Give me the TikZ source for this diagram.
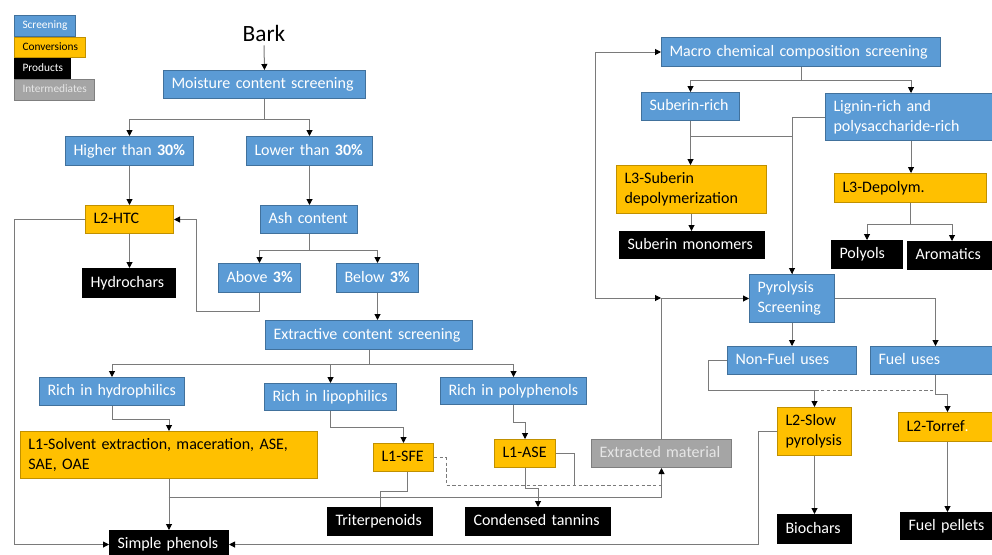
\documentclass[tikz,border=0pt]{standalone}
\usepackage{fontspec}
\setmainfont{Carlito}
\usetikzlibrary{arrows.meta}
\definecolor{scr}{HTML}{5B9BD5}
\definecolor{scrb}{HTML}{41719C}
\definecolor{conv}{HTML}{FFC000}
\definecolor{convb}{HTML}{C09000}
\definecolor{inter}{HTML}{A5A5A5}
\definecolor{interb}{HTML}{7F7F7F}
\definecolor{intert}{HTML}{E6E6E6}
\definecolor{lgray}{HTML}{7A7A7A}
\newcommand{\bx}[7]{\node[box,#6,anchor=north west,minimum width={(#4-#2)*0.75pt},minimum height={(#5-#3)*0.75pt},text width={(#4-#2-16)*0.75pt}] (#1) at (#2,#3) {\mbox{\strut#7\strut}};}
\newcommand{\bxx}[7]{\node[box,#6,anchor=north west,minimum width={(#4-#2)*0.75pt},minimum height={(#5-#3)*0.75pt},text width={(#4-#2-16)*0.75pt}] (#1) at (#2,#3) {\strut#7\strut};}
\tikzset{
  box/.style={inner xsep=6pt, inner ysep=0pt, align=left, font=\fontsize{12}{15}\selectfont, line width=0.75pt},
  scrn/.style={fill=scr, draw=scrb, text=white},
  convn/.style={fill=conv, draw=convb, text=black},
  prod/.style={fill=black, draw=black, text=white},
  intm/.style={fill=inter, draw=interb, text=intert},
  legf/.style={font=\fontsize{8.5}{10}\selectfont},
  ln/.style={draw=lgray, line width=0.75pt},
  dsh/.style={ln, dash pattern=on 2.5pt off 1.8pt},
  ar/.style={ln, -{Triangle[length=4.5pt, width=4.5pt, color=black]}},
  dar/.style={ln, {Triangle[length=4.5pt, width=4.5pt, color=black]}-{Triangle[length=4.5pt, width=4.5pt, color=black]}},
}
\begin{document}
\begin{tikzpicture}[x=0.75pt,y=-0.75pt]
\useasboundingbox (0,0) rectangle (992,554);
% legend
\bx{lg1}{14}{15}{75}{36}{scrn,legf}{Screening}
\bx{lg2}{14}{37}{85}{57}{convn,legf}{Conversions}
\bx{lg3}{14}{58}{70}{78}{prod,legf}{Products}
\bx{lg4}{14}{79}{94}{100}{intm,legf}{Intermediates}
% left tree
\node[font=\fontsize{17.5}{20}\selectfont, inner sep=0pt] (bark) at (264,33) {Bark};
\bx{moist}{163}{70}{365}{98}{scrn}{Moisture content screening}
\bx{higher}{65}{136}{193}{165}{scrn}{Higher than \textbf{30\%}}
\bx{lower}{246}{136}{372}{165}{scrn}{Lower than \textbf{30\%}}
\bx{htc}{85}{205}{173}{233}{convn}{L2-HTC}
\bx{hydro}{82}{268}{175}{297}{prod}{Hydrochars}
\bx{ash}{260}{205}{357}{233}{scrn}{Ash content}
\bx{above}{218}{263}{300}{292}{scrn}{Above \textbf{3\%}}
\bx{below}{336}{263}{418}{292}{scrn}{Below \textbf{3\%}}
\bx{extr}{265}{320}{472}{349}{scrn}{Extractive content screening}
\bx{rhyd}{39}{377}{184}{405}{scrn}{Rich in hydrophilics}
\bx{rlip}{264}{383}{396}{410}{scrn}{Rich in lipophilics}
\bx{rpoly}{440}{377}{586}{404}{scrn}{Rich in polyphenols}
\bxx{lsolv}{20}{431}{317}{478}{convn}{L1-Solvent extraction, maceration, ASE,\\SAE, OAE}
\bx{sfe}{373}{443}{433}{471}{convn}{L1-SFE}
\bx{ase}{494}{439}{555}{467}{convn}{L1-ASE}
\bx{extm}{591}{439}{731}{467}{intm}{Extracted material}
\bx{simple}{109}{530}{228}{558}{prod}{Simple phenols}
\bx{trit}{327}{507}{432}{535}{prod}{Triterpenoids}
\bx{tann}{465}{507}{610}{535}{prod}{Condensed tannins}
% right tree
\bx{macro}{661}{37}{940}{66}{scrn}{Macro chemical composition screening}
\bx{sub}{641}{92}{739}{120}{scrn}{Suberin-rich}
\bxx{lig}{825}{93}{996}{140}{scrn}{Lignin-rich and\\polysaccharide-rich}
\bxx{l3s}{616}{165}{766}{213}{convn}{L3-Suberin\\depolymerization}
\bx{l3d}{834}{173}{986}{202}{convn}{L3-Depolym.}
\bx{submono}{619}{231}{764}{258}{prod}{Suberin monomers}
\bx{polyols}{831}{240}{902}{268}{prod}{Polyols}
\bx{arom}{907}{241}{996}{269}{prod}{Aromatics}
\bxx{pyro}{749}{274}{834}{322}{scrn}{Pyrolysis\\Screening}
\bx{nonfuel}{727}{346}{856}{374}{scrn}{Non-Fuel uses}
\bx{fuel}{870}{346}{996}{374}{scrn}{Fuel uses}
\bxx{slow}{777}{407}{851}{455}{convn}{L2-Slow\\pyrolysis}
\bx{torref}{898}{412}{996}{441}{convn}{L2-Torref\textcolor{white}{.}}
\bx{biochar}{777}{514}{851}{543}{prod}{Biochars}
\bx{pellets}{900}{512}{996}{539}{prod}{Fuel pellets}
% junction coordinates
\coordinate (j1) at (168.5,497);
\coordinate (j2) at (690,136);
\coordinate (j3) at (661,485);
\coordinate (j4) at (661,298);
% connectors left
\draw[ar] ([yshift=-3pt]bark.south) -- (moist.north);
\draw[ar] (moist.south) -- ++(0,20) -| (higher.north);
\draw[ar] (moist.south) -- ++(0,20) -| (lower.north);
\draw[ar] (higher.south) -- (higher.south |- htc.north);
\draw[ar] (htc.south) -- (htc.south |- hydro.north);
\draw[ar] (lower.south) -- (lower.south |- ash.north);
\draw[ar] (ash.south) -- ++(0,16) -| (above.north);
\draw[ar] (ash.south) -- ++(0,16) -| (below.north);
\draw[ar] (above.south) -- ++(0,18) -| ([xshift=16.5pt]htc.east) -- (htc.east);
\draw[ar] (below.south) -- (below.south |- extr.north);
\draw[ar] (extr.south) -- ++(0,14) -| (rhyd.north);
\draw[ar] (extr.south) -- ++(0,14) -| (rlip.north);
\draw[ar] (extr.south) -- ++(0,14) -| (rpoly.north);
\draw[ar] (rhyd.south) -- ++(0,13) -| (lsolv.north);
\draw[ar] (rlip.south) -- ++(0,16) -| (sfe.north);
\draw[ar] (rpoly.south) -- ++(0,17) -| (ase.north);
\draw[ar] (lsolv.south) -- (lsolv.south |- simple.north);
\draw[ar] (j1) -| (extm.south);
\draw[dsh] (sfe.east) -- ++(12,0) |- (j3);
\draw[ln] (ase.east) -- ++(18,0) -- ++(0,32);
\draw[ln] ([xshift=3pt]sfe.south) -- ++(0,19) -| (trit.north);
\draw[ar] (ase.south) -- ++(0,20) -| (tann.north);
\draw[ar] (htc.west) -- ++(-71,0) |- (simple.west);
% connectors right
\draw[ar] (extm.north) |- (pyro.west);
\draw[dar] (macro.west) -- ++(-66,0) |- (j4);
\draw[ar] (macro.south) -- ++(0,13) -| (sub.north);
\draw[ar] (macro.south) -- ++(0,13) -| (lig.north);
\draw[ar] (sub.south) -- (sub.south |- l3s.north);
\draw[ln] (j2) -| (pyro.north);
\draw[ar] (lig.west) -| (pyro.north);
\draw[ar] (lig.south) -- (lig.south |- l3d.north);
\draw[ar] (l3d.south) -- ++(0,21) -| (polyols.north);
\draw[ar] (l3d.south) -- ++(0,21) -| (arom.north);
\draw[ar] (l3s.south) -- (l3s.south |- submono.north);
\draw[ar] (pyro.south) -- (pyro.south |- nonfuel.north);
\draw[ar] (pyro.east) -| ([xshift=1.5pt]fuel.north);
\draw[ar] (nonfuel.west) -- ++(-19,0) |- ([yshift=12.75pt]slow.north) -- (slow.north);
\draw[dsh] ([xshift=1.5pt]fuel.south) |- ([yshift=12.75pt]slow.north);
\draw[ar] ([xshift=1.5pt]fuel.south) -- ++(0,19) -| (torref.north);
\draw[ar] (slow.south) -- (slow.south |- biochar.north);
\draw[ar] (torref.south) -- (torref.south |- pellets.north);
\draw[ar] (slow.west) -- ++(-19,0) |- (simple.east);
\end{tikzpicture}
\end{document}
